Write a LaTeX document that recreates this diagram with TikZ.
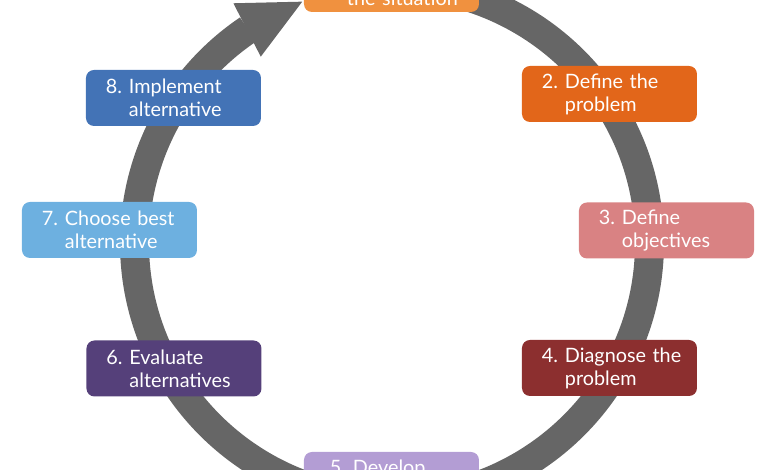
\documentclass[tikz,border=0pt]{standalone}
\usepackage{fontspec}
\setmainfont{Lato}
\usetikzlibrary{arrows.meta,bending}
\definecolor{ringgray}{HTML}{666666}
\definecolor{c1}{HTML}{F0913F}
\definecolor{c2}{HTML}{E2661A}
\definecolor{c3}{HTML}{D98283}
\definecolor{c4}{HTML}{8C2F2F}
\definecolor{c5}{HTML}{B39DD4}
\definecolor{c6}{HTML}{55407A}
\definecolor{c7}{HTML}{6DB0E0}
\definecolor{c8}{HTML}{4373B6}
\newcommand{\numtext}[3]{\hspace*{20pt}\makebox[23pt][l]{#1.}#2\\\hspace*{43pt}#3}

\begin{document}
\begin{tikzpicture}[x=1pt, y=1pt,
    stepbox/.style={rounded corners=8pt, fill=#1, text=white,
        minimum width=175pt, minimum height=56pt, text width=175pt,
        inner xsep=0pt, inner ysep=0pt, align=left,
        font=\fontsize{19.8}{23}\selectfont},
    ring/.style={color=ringgray, line width=29pt,
        -{Triangle[width=60pt, length=62pt, line width=0pt, flex]}}]
    \useasboundingbox (-392,-227) rectangle (388,243);
    \clip (-392,-227) rectangle (388,243);
    % Anillo con flecha
    \draw[ring] (90:257.5) arc[start angle=90, end angle=-249.6, radius=257.5];
    % Pasos
    \node[stepbox=c1] (s1) at (-0.5,259) {\rule{0pt}{20pt}\\\hspace*{43pt}the situation};
    \node[stepbox=c2] (s2) at (217.5,149) {\numtext{2}{Define the}{problem}};
    \node[stepbox=c3] (s3) at (274.5,12.5) {\numtext{3}{Define}{objectives}};
    \node[stepbox=c4] (s4) at (217.5,-125) {\numtext{4}{Diagnose the}{problem}};
    \node[stepbox=c5] (s5) at (-0.5,-237) {\hspace*{26pt}\makebox[23pt][l]{5.}Develop\\\vphantom{p}};
    \node[stepbox=c6] (s6) at (-218,-125.5) {\numtext{6}{Evaluate}{alternatives}};
    \node[stepbox=c7] (s7) at (-282.5,13) {\numtext{7}{Choose best}{alternative}};
    \node[stepbox=c8] (s8) at (-218.5,145) {\numtext{8}{Implement}{alternative}};
\end{tikzpicture}
\end{document}
